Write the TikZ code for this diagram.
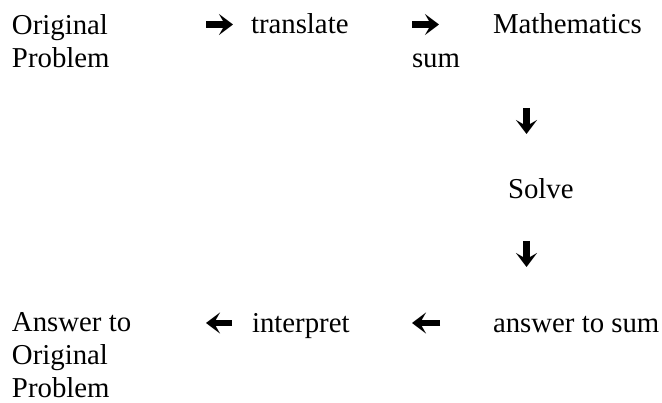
\documentclass[tikz,border=0pt]{standalone}
\usepackage{fontspec}
\setmainfont{Liberation Serif}
\usetikzlibrary{arrows.meta}
\begin{document}
\begin{tikzpicture}[x=1pt,y=-1pt,
  lbl/.style={anchor=base west,inner sep=0pt,outer sep=0pt,align=left,
    font=\fontsize{28.8}{33.3}\selectfont},
  bigarrow/.style={line width=6.5pt,line cap=butt,
    -{Stealth[length=14pt,width=21pt,inset=6pt]}}]
\useasboundingbox (0,0) rectangle (662,403);
% top row (base anchor = baseline of the last line)
\node[lbl] (orig) at (12,68) {Original\\Problem};
\node[lbl] (transl) at (251,34) {translate};
\node[lbl] (math) at (493,34) {Mathematics};
\node[lbl] (mathsum) at (412,68) {sum};
% middle
\node[lbl] (solve) at (508,199) {Solve};
% bottom row
\node[lbl,text depth=0pt] (answer) at (12,398) {Answer to\\Original\\Problem};
\node[lbl] (interp) at (252,333) {interpret};
\node[lbl] (anssum) at (493,333) {answer to sum};
% arrow end points
\coordinate (a1s) at (206,24.5);
\coordinate (a1e) at (233,24.5);
\coordinate (a2s) at (412,24.5);
\coordinate (a2e) at (439,24.5);
\coordinate (d1s) at (526.5,108);
\coordinate (d1e) at (526.5,134);
\coordinate (d2s) at (526.5,241);
\coordinate (d2e) at (526.5,267);
\coordinate (b1s) at (232,323);
\coordinate (b1e) at (206,323);
\coordinate (b2s) at (440,323);
\coordinate (b2e) at (412,323);
\draw[bigarrow] (a1s) -- (a1e);
\draw[bigarrow] (a2s) -- (a2e);
\draw[bigarrow] (d1s) -- (d1e);
\draw[bigarrow] (d2s) -- (d2e);
\draw[bigarrow] (b1s) -- (b1e);
\draw[bigarrow] (b2s) -- (b2e);
\end{tikzpicture}
\end{document}
